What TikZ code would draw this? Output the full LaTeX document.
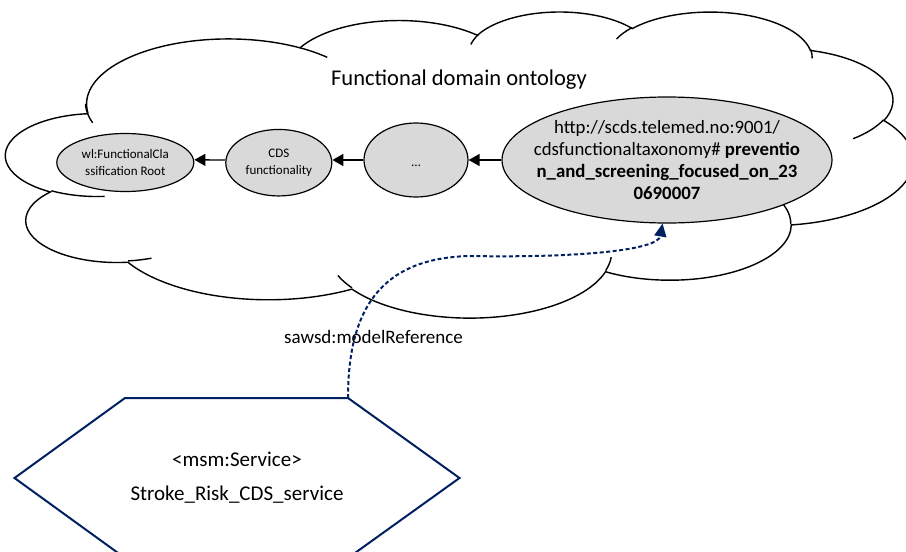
\documentclass[tikz,border=0pt]{standalone}
\usepackage{fontspec}
\setmainfont{Carlito}
\usetikzlibrary{shapes.geometric,arrows.meta}
\definecolor{navy}{RGB}{0,32,96}
\definecolor{ellgray}{RGB}{217,217,217}
\tikzset{
  carc/.style n args={4}{insert path={arc[x radius=#1, y radius=#2,
     start angle={atan2((#1)*sin(#3),(#2)*cos(#3))},
     delta angle={mod(atan2((#1)*sin((#3)+(#4)),(#2)*cos((#3)+(#4)))-atan2((#1)*sin(#3),(#2)*cos(#3))+720,360)}]}},
  cloudline/.style={draw=black, line width=1.4pt},
  ell/.style={ellipse, draw=black, fill=ellgray, line width=1.2pt, inner sep=0pt},
  txt/.style={inner sep=0pt, align=center, text=black},
  isa/.style={draw=black, line width=1.3pt, -{Triangle[length=11pt,width=12pt]}},
  conn/.style={draw=navy, line width=2pt, dash pattern=on 4pt off 2.5pt,
     -{Triangle[length=13pt,width=12pt,fill=navy]}},
  hexline/.style={draw=navy, line width=2pt, line join=miter}
}
\begin{document}
\begin{tikzpicture}[x=1pt,y=-1pt]
\useasboundingbox (0,0) rectangle (906,552);
\clip (0,0) rectangle (906,552);
% cloud
\begin{scope}[shift={(6pt,-11pt)}, x=2.0995pt, y=-0.7083pt]
  \path[cloudline, fill=white] (39.00,143.70)
    [carc={67.53}{91.90}{-190.48748}{123.78053}]
    [carc={53.33}{72.67}{-144.10238}{89.94523}]
    [carc={43.65}{59.45}{-145.80792}{99.72302}]
    [carc={48.57}{65.95}{-130.98607}{117.24173}]
    [carc={53.33}{72.73}{-78.70888}{109.02692}]
    [carc={67.75}{92.20}{-46.26725}{130.269}]
    [carc={57.85}{78.67}{0.62502}{114.03333}]
    [carc={67.52}{92.15}{22.4516}{115.17255}]
    [carc={77.20}{105.43}{66.24263}{75.71102}]
    [carc={43.60}{59.18}{-274.94208}{146.73557}]
    [carc={43.45}{59.45}{-246.8285}{152.51885}] -- cycle;
  \draw[cloudline] (46.93,261.77) [carc={43.45}{59.45}{86.742}{26.4295}];
  \draw[cloudline] (69.28,348.99) [carc={43.60}{59.18}{73.61047}{11.44747}];
  \draw[cloudline] (164.78,390.90) [carc={67.52}{92.15}{137.62415}{14.0811}];
  \draw[cloudline] (288.27,347.51) [carc={67.52}{92.15}{6.45327}{15.99835}];
  \draw[cloudline] (341.29,229.54) [carc={57.85}{78.67}{-70.29235}{70.91737}];
  \draw[cloudline] (417.98,153.54) [carc={53.33}{72.73}{30.31803}{27.7515}];
  \draw[cloudline] (383.24,54.26) [carc={48.57}{65.95}{-13.74433}{14.8589}];
  \draw[cloudline] (290.78,39.52) [carc={48.57}{65.95}{-149.18145}{18.19537}];
  \draw[cloudline] (221.41,47.20) [carc={43.65}{59.45}{-163.49427}{17.68635}];
  \draw[cloudline] (140.00,51.92) [carc={67.53}{91.90}{-66.70695}{12.31935}];
  \draw[cloudline] (41.27,157.89) [carc={67.53}{91.90}{155.6472}{22.46458}];
\end{scope}
\node[txt, font=\fontsize{22.5}{27}\selectfont] (title) at (459,80) {Functional domain ontology};
% ellipses
\node[ell, minimum width=137pt, minimum height=58pt] (wl) at (125.3,162.5) {};
\node[txt, font=\fontsize{13}{17.5}\selectfont] (wltext) at (wl.center) {wl:FunctionalCla\\ssification Root};
\node[ell, minimum width=106pt, minimum height=66.5pt] (cds) at (278.8,162.7) {};
\node[txt, font=\fontsize{13}{17.5}\selectfont] (cdstext) at (cds.center) {CDS\\functionality};
\node[ell, minimum width=104pt, minimum height=74pt] (dots) at (416,160) {};
\node[txt, anchor=base, font=\fontsize{13}{17.5}\selectfont] (dotstext) at ([yshift=-6pt]dots.center) {…};
\node[ell, minimum width=330pt, minimum height=126pt] (big) at (667,160) {};
\node[txt, font=\fontsize{18.8}{22.3}\selectfont] (bigtext) at (big.center)
  {http://scds.telemed.no:9001/\\cdsfunctionaltaxonomy\# \textbf{preventio}\\\textbf{n\_and\_screening\_focused\_on\_23}\\\textbf{0690007}};
\draw[isa] (big.west) -- (dots.east);
\draw[isa] (dots.west) -- ([yshift=2.7pt]cds.east);
\draw[isa] ([yshift=2.7pt]cds.west) -- ([yshift=2.7pt]wl.east);
% service hexagon
\draw[hexline] (125,398) -- (348,398) -- (459.5,478) -- (348,558) -- (125,558) -- (14.5,478) -- cycle;
\coordinate (hexTR) at (348,398);
\node[txt, font=\fontsize{21}{25}\selectfont] (svc1) at (237,459) {<msm:Service>};
\node[txt, font=\fontsize{21}{25}\selectfont] (svc2) at (237,495) {Stroke\_Risk\_CDS\_service};
% model reference
\draw[conn] (hexTR) .. controls (348,310) and (380,258) .. (470,256)
  .. controls (580,258) and (658,250) .. (big.266);
\node[txt, font=\fontsize{19}{23}\selectfont] (reflabel) at (373.5,337) {sawsd:modelReference};
\end{tikzpicture}
\end{document}
